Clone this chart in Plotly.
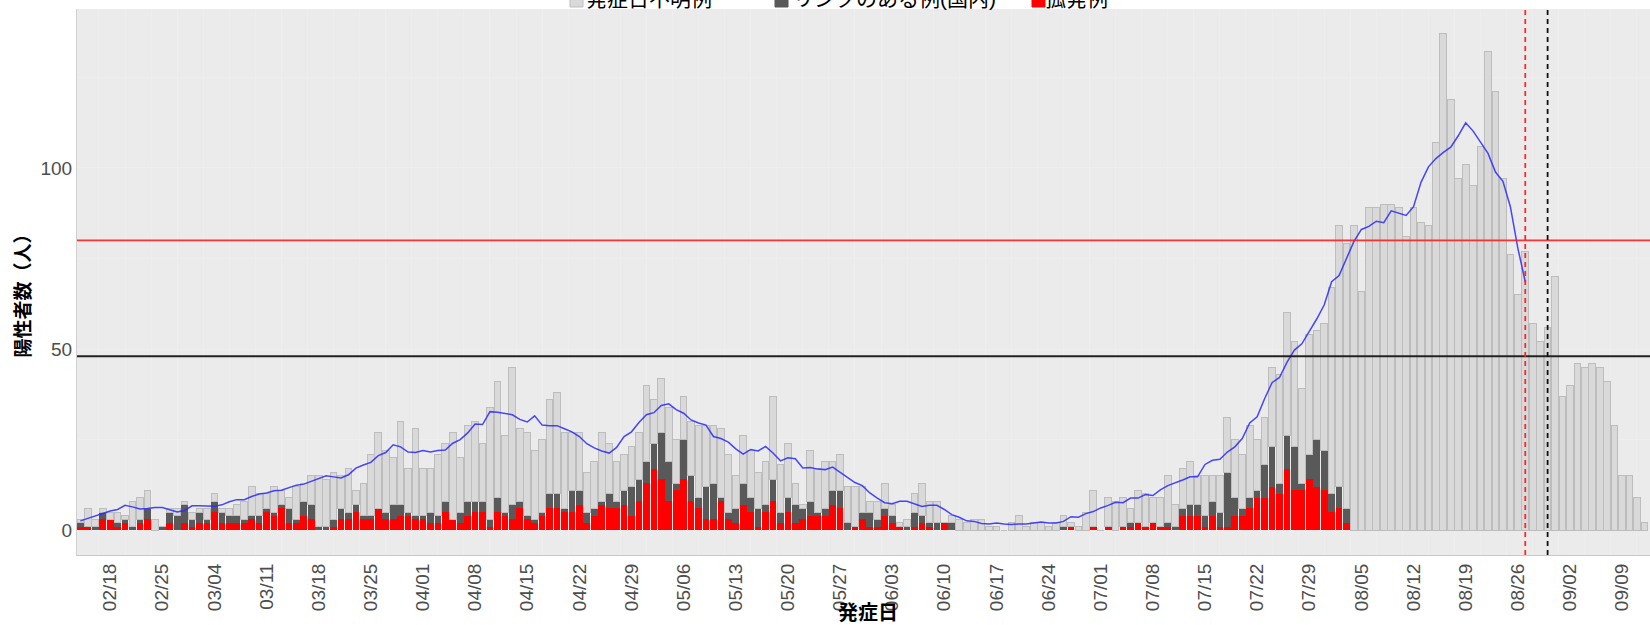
import numpy as np
import pandas as pd
import plotly.graph_objects as go

# ---- categories (onset dates) ----
dates = pd.date_range("2021-02-14", "2021-09-12", freq="D")

# ---- series values (persons per day) ----
red = [
    1, 1, 0, 3, 3, 1, 2, 0, 2, 3,
    0, 0, 2, 0, 2, 1, 2, 2, 5, 2,
    2, 2, 2, 3, 2, 5, 4, 6, 2, 2,
    4, 3, 0, 0, 1, 3, 3, 5, 3, 3,
    6, 3, 3, 4, 4, 3, 3, 2, 2, 5,
    3, 2, 4, 5, 5, 1, 5, 4, 3, 6,
    3, 2, 4, 6, 6, 5, 5, 7, 2, 4,
    7, 6, 6, 7, 4, 8, 13, 17, 14, 8,
    11, 14, 8, 6, 3, 3, 8, 3, 2, 7,
    5, 1, 5, 8, 2, 5, 2, 3, 4, 4,
    4, 7, 6, 0, 1, 3, 1, 1, 4, 2,
    1, 0, 1, 2, 1, 0, 2, 0, 0, 0,
    0, 0, 0, 0, 0, 0, 0, 0, 0, 0,
    0, 0, 0, 1, 0, 0, 1, 0, 1, 0,
    1, 1, 2, 1, 2, 1, 1, 0, 4, 4,
    4, 1, 4, 1, 1, 4, 4, 6, 9, 9,
    12, 10, 17, 11, 11, 14, 12, 11, 5, 6,
    2, 0, 0, 0, 0, 0, 0, 0, 0, 0,
    0, 0, 0, 0, 0, 0, 0, 0, 0, 0,
    0, 0, 0, 0, 0, 0, 0, 0, 0, 0,
    0, 0, 0, 0, 0, 0, 0, 0, 0, 0,
    0,
]
linked = [
    1, 0, 1, 2, 0, 1, 1, 1, 1, 3,
    0, 1, 3, 4, 5, 2, 3, 1, 3, 3,
    2, 2, 1, 1, 2, 1, 1, 1, 4, 1,
    4, 4, 1, 1, 2, 3, 2, 2, 1, 1,
    0, 2, 4, 3, 1, 1, 1, 3, 2, 3,
    0, 3, 4, 3, 3, 2, 4, 1, 4, 2,
    1, 1, 1, 4, 4, 1, 6, 4, 3, 2,
    1, 4, 2, 4, 8, 6, 6, 7, 13, 11,
    2, 11, 7, 3, 9, 10, 1, 2, 4, 6,
    4, 5, 2, 6, 3, 4, 5, 3, 4, 1,
    2, 4, 5, 2, 0, 2, 4, 2, 2, 2,
    0, 1, 4, 2, 1, 2, 0, 2, 0, 0,
    0, 0, 0, 0, 0, 0, 0, 0, 0, 0,
    0, 0, 1, 0, 0, 0, 0, 0, 0, 0,
    0, 1, 0, 0, 0, 0, 1, 1, 2, 3,
    3, 3, 4, 4, 15, 5, 2, 3, 2, 9,
    11, 3, 9, 12, 2, 7, 13, 11, 5, 6,
    4, 0, 0, 0, 0, 0, 0, 0, 0, 0,
    0, 0, 0, 0, 0, 0, 0, 0, 0, 0,
    0, 0, 0, 0, 0, 0, 0, 0, 0, 0,
    0, 0, 0, 0, 0, 0, 0, 0, 0, 0,
    0,
]
unknown = [
    1, 5, 2, 1, 2, 3, 1, 7, 6, 5,
    3, 0, 1, 2, 1, 2, 1, 3, 2, 1,
    2, 3, 5, 8, 6, 4, 7, 4, 3, 9,
    5, 8, 14, 13, 13, 9, 12, 4, 9, 17,
    21, 17, 13, 23, 12, 24, 13, 12, 17, 16,
    24, 15, 21, 22, 16, 31, 32, 21, 38, 20,
    23, 19, 20, 26, 28, 21, 16, 16, 11, 13,
    19, 14, 11, 10, 11, 13, 21, 12, 15, 15,
    12, 12, 15, 20, 17, 16, 19, 16, 9, 13,
    13, 10, 12, 23, 13, 15, 6, 1, 14, 12,
    13, 8, 10, 10, 11, 7, 3, 5, 7, 3,
    1, 2, 5, 9, 6, 6, 0, 2, 3, 2,
    3, 3, 1, 1, 0, 2, 4, 1, 2, 2,
    1, 2, 3, 1, 1, 5, 10, 0, 8, 8,
    8, 4, 9, 9, 7, 8, 13, 6, 11, 12,
    8, 11, 7, 10, 15, 16, 15, 20, 14, 13,
    22, 30, 34, 29, 26, 33, 30, 35, 57, 72,
    73, 84, 66, 89, 89, 90, 90, 89, 81, 89,
    85, 84, 107, 137, 119, 97, 101, 95, 106, 132,
    121, 97, 76, 65, 77, 57, 52, 56, 70, 37,
    40, 46, 45, 46, 45, 41, 29, 15, 15, 9,
    2,
]

# ---- legend labels / colours ----
series_names = ["発症日不明例", "リンクのある例(国内)", "孤発例"]
series_colors = ["#D9D9D9", "#595959", "#FF0000"]

# ---- axis titles ----
x_title = "発症日"
y_title = "陽性者数（人）"

# ---- reference lines ----
hline_red = 80
hline_black = 48
ma_last_date = "2021-08-27"     # moving average shown up to here (red dashed line)
black_dash_date = "2021-08-30"

# ---- tick labels ----
y_ticks = [0, 50, 100]

# 7-day centred moving average of daily totals (days before the series count as 0)
total = np.array(red) + np.array(linked) + np.array(unknown)
padded = np.concatenate([np.zeros(3), total, np.zeros(3)])
ma = np.convolve(padded, np.ones(7) / 7.0, mode="valid")
n_ma = int((pd.Timestamp(ma_last_date) - dates[0]).days) + 1

FONT = "Liberation Sans, Arial, Noto Sans CJK JP, sans-serif"
W, H = 1650, 625
ML, MR, MT, MB = 77, 0, 9, 70
PW, PH = W - ML - MR, H - MT - MB
PX_PER_DAY = 7.448


def px_x(px):
    return (px - ML) / PW


def px_y(py):
    return 1 + (MT - py) / PH


fig = go.Figure()
fig.add_trace(go.Bar(x=dates, y=red, name=series_names[2], showlegend=False,
                     marker=dict(color=series_colors[2], line=dict(width=0))))
fig.add_trace(go.Bar(x=dates, y=linked, name=series_names[1], showlegend=False,
                     marker=dict(color=series_colors[1], line=dict(width=0))))
fig.add_trace(go.Bar(x=dates, y=unknown, name=series_names[0], showlegend=False,
                     marker=dict(color=series_colors[0], line=dict(color="#BDBDBD", width=1))))
fig.add_trace(go.Scatter(x=dates[:n_ma], y=ma[:n_ma], mode="lines",
                         line=dict(color="rgba(40,40,255,0.85)", width=1.5),
                         showlegend=False, hoverinfo="skip"))

fig.add_hline(y=hline_red, line=dict(color="rgba(255,30,30,0.9)", width=1.8))
fig.add_hline(y=hline_black, line=dict(color="#222222", width=1.8))
fig.add_vline(x=pd.Timestamp(ma_last_date).timestamp() * 1000,
              line=dict(color="rgba(255,30,30,0.95)", width=1.8, dash="5px,4px"))
fig.add_vline(x=pd.Timestamp(black_dash_date).timestamp() * 1000,
              line=dict(color="#111111", width=1.8, dash="5px,4px"))

# legend (top, partly cut off by the page edge as in the original)
swatch_left = [570, 775, 1032]
text_left = [586, 793, 1045]
for name, col, sx, tx in zip(series_names, series_colors, swatch_left, text_left):
    fig.add_shape(type="rect", xref="paper", yref="paper",
                  x0=px_x(sx), x1=px_x(sx + 13), y0=px_y(7), y1=px_y(-6),
                  fillcolor=col,
                  line=dict(color="#BDBDBD" if col == "#D9D9D9" else col, width=1))
    fig.add_annotation(text=name, xref="paper", yref="paper",
                       x=px_x(tx - 2), y=px_y(-1.5), xanchor="left", yanchor="middle",
                       showarrow=False, font=dict(size=21, color="black"))

# axis titles
fig.add_annotation(text="<b>%s</b>" % x_title, xref="paper", yref="paper",
                   x=px_x(868), y=px_y(613), xanchor="center", yanchor="middle",
                   showarrow=False, font=dict(size=20, color="black"))
fig.add_annotation(text="<b>%s</b>" % y_title, xref="paper", yref="paper",
                   x=px_x(22.5), y=px_y(291), xanchor="center", yanchor="middle",
                   textangle=-90, showarrow=False, font=dict(size=19, color="black"))

x_start = dates[0] - pd.Timedelta(hours=10.8)
x_end = x_start + pd.Timedelta(hours=24 * PW / PX_PER_DAY)

fig.update_layout(
    width=W, height=H,
    barmode="stack", bargap=0.1,
    plot_bgcolor="#EBEBEB", paper_bgcolor="white",
    margin=dict(l=ML, r=MR, t=MT, b=MB, autoexpand=False),
    font=dict(family=FONT, color="#4D4D4D", size=18),
    showlegend=False,
    xaxis=dict(
        type="date", range=[x_start, x_end],
        tick0="2021-02-18", dtick=7 * 86400000, tickformat="%m/%d",
        tickangle=-90, tickfont=dict(size=19, color="#4D4D4D"),
        showgrid=False, zeroline=False,
        showline=True, linecolor="#C8C8C8", linewidth=1,
        ticks="",
        minor=dict(showgrid=True, dtick=84 * 3600000,
                   tick0="2021-02-16 12:00", gridcolor="#EEEEEE", gridwidth=1),
    ),
    yaxis=dict(
        range=[-6.85, 143.85], tickvals=y_ticks,
        tickfont=dict(size=19, color="#4D4D4D"),
        showgrid=True, gridcolor="#EEEEEE", gridwidth=1, zeroline=False,
        minor=dict(showgrid=True, dtick=25, tick0=0, gridcolor="#EEEEEE"),
        showline=True, linecolor="#D0D0D0", linewidth=1, ticks="",
    ),
)

fig.write_html("out.html",
               config={"displayModeBar": False},
               post_script="document.body.style.margin='0px';document.body.style.overflow='hidden';")
